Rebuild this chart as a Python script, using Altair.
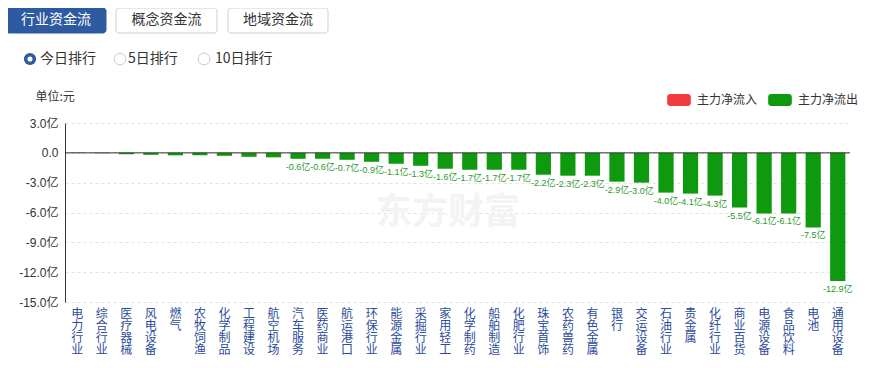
import altair as alt
import pandas as pd

categories = ["电力行业", "综合行业", "医疗器械", "风电设备", "燃气", "农牧饲渔", "化学制品", "工程建设",
              "航空机场", "汽车服务", "医药商业", "航运港口", "环保行业", "能源金属", "采掘行业", "家用轻工",
              "化学制药", "船舶制造", "化肥行业", "珠宝首饰", "农药兽药", "有色金属", "银行", "交运设备",
              "石油行业", "贵金属", "化纤行业", "商业百货", "电源设备", "食品饮料", "电池", "通用设备"]
values = [0.03, -0.05, -0.15, -0.2, -0.25, -0.25, -0.3, -0.4,
          -0.45, -0.6, -0.6, -0.7, -0.9, -1.1, -1.3, -1.6,
          -1.7, -1.7, -1.7, -2.2, -2.3, -2.3, -2.9, -3.0,
          -4.0, -4.1, -4.3, -5.5, -6.1, -6.1, -7.5, -12.9]
series_names = ["主力净流入", "主力净流出"]
series_colors = ["#f03c3c", "#0f990f"]
tabs = ["行业资金流", "概念资金流", "地域资金流"]
ranks = ["今日排行", "5日排行", "10日排行"]
y_ticks = [3, 0, -3, -6, -9, -12, -15]

df = pd.DataFrame({"行业": categories, "净额": values})
df["方向"] = [series_names[0] if v > 0 else series_names[1] for v in values]

FONT = "Noto Sans CJK SC"
NUMFONT = "Liberation Sans, Noto Sans CJK SC"
W, H = 785, 179

base = alt.Chart(df)

x_enc = alt.X("行业:N", sort=categories,
              scale=alt.Scale(paddingInner=0.38, paddingOuter=0.19),
              axis=alt.Axis(title=None, labelAngle=0, labelExpr="split(datum.label, '')",
                            labelColor="#2b4c9b", labelFontSize=12, labelLineHeight=12.3,
                            labelBaseline="top", labelPadding=6, ticks=False, domain=False,
                            labelAlign="center", grid=False, labelOverlap=False, labelFont=FONT))
y_enc = alt.Y("净额:Q", scale=alt.Scale(domain=[-15, 3], nice=False, zero=False),
              axis=alt.Axis(values=y_ticks, labelOverlap=False, labelBound=False, tickCount=7,
                            labelExpr="datum.value == 0 ? '0.0' : replace(format(datum.value, '.1f'), '\u2212', '-') + '亿'",
                            title="单位:元", titleAngle=0, titleX=-30, titleY=-27, titleAlign="left",
                            titleBaseline="middle", titleFontWeight="normal", titleFontSize=12,
                            titleColor="#333", titleFont=FONT,
                            labelColor="#333", labelFontSize=12, labelPadding=7, labelFont=NUMFONT,
                            ticks=False, domainColor="#333", gridColor="#e3e3e3", gridDash=[3, 3]))

rounded = ("M-0.75,-0.5H0.75A0.25,0.25 0 0 1 1,-0.25V0.25A0.25,0.25 0 0 1 0.75,0.5"
           "H-0.75A0.25,0.25 0 0 1 -1,0.25V-0.25A0.25,0.25 0 0 1 -0.75,-0.5Z")

bars = base.mark_bar().encode(
    x=x_enc, y=y_enc,
    color=alt.Color("方向:N", scale=alt.Scale(domain=series_names, range=series_colors),
                    legend=alt.Legend(title=None, orient="none", legendX=602, legendY=-35,
                                      direction="horizontal",
                                      symbolType=rounded, symbolSize=560,
                                      symbolStrokeWidth=0, labelFontSize=12, labelColor="#333",
                                      labelFont=FONT, columnPadding=10, labelOffset=6, padding=0)),
)

labels = base.transform_filter("abs(datum['净额']) >= 0.5").transform_calculate(
    lab="replace(format(datum['净额'], '.1f'), '\u2212', '-') + '亿'"
).mark_text(baseline="top", dy=4, fontSize=9, color="#2a9a2a", font=NUMFONT).encode(
    x=x_enc, y=y_enc, text="lab:N")

zero = alt.Chart(pd.DataFrame({"净额": [0]})).mark_rule(color="#333", strokeWidth=1).encode(y=y_enc)

one = alt.Chart(pd.DataFrame({"k": [0]}))

watermark = one.mark_text(text="东方财富", fontSize=36, fontWeight="bold", color="#f3f3f3",
                          font=FONT).encode(x=alt.value(383), y=alt.value(90))

layers = [watermark, bars, zero, labels]

# tab buttons
tab_x = [(-59, 41), (51, 152), (163, 263)]
for i, (t, (x0, x1)) in enumerate(zip(tabs, tab_x)):
    sel = i == 0
    layers.append(one.mark_rect(cornerRadius=3, fill="#2d5aa0" if sel else "#ffffff",
                                stroke="#2d5aa0" if sel else "#cfcfcf", strokeWidth=1).encode(
        x=alt.value(x0), x2=alt.value(x1), y=alt.value(-115), y2=alt.value(-90)))
    layers.append(one.mark_text(text=t, fontSize=14, color="#ffffff" if sel else "#333333",
                                font=FONT, align="center", baseline="middle").encode(
        x=alt.value((x0 + x1) / 2), y=alt.value(-103)))

# radio buttons
radio_x = [(-35, -25), (55, 63), (139, 150)]
for i, (r, (cx, tx)) in enumerate(zip(ranks, radio_x)):
    sel = i == 0
    if sel:
        layers.append(one.mark_point(shape="circle", filled=True, size=150, color="#2d5aa0",
                                     opacity=1).encode(x=alt.value(cx), y=alt.value(-64)))
        layers.append(one.mark_point(shape="circle", filled=True, size=26, color="#ffffff",
                                     opacity=1).encode(x=alt.value(cx), y=alt.value(-64)))
    else:
        layers.append(one.mark_point(shape="circle", filled=False, size=140, color="#cccccc",
                                     strokeWidth=1, opacity=1).encode(x=alt.value(cx), y=alt.value(-64)))
    layers.append(one.mark_text(text=r, fontSize=14, color="#333333", font=FONT, align="left",
                                baseline="middle").encode(x=alt.value(tx), y=alt.value(-64)))

chart = alt.layer(*layers).properties(
    width=W, height=H,
    autosize=alt.AutoSizeParams(type="none"),
    padding={"left": 57, "top": 115, "right": 14, "bottom": 58},
    background="#ffffff",
).configure_view(stroke=None).configure_axisY(labelOverlap=False)

chart.save("out.html", embed_options={"renderer": "svg", "actions": False})
